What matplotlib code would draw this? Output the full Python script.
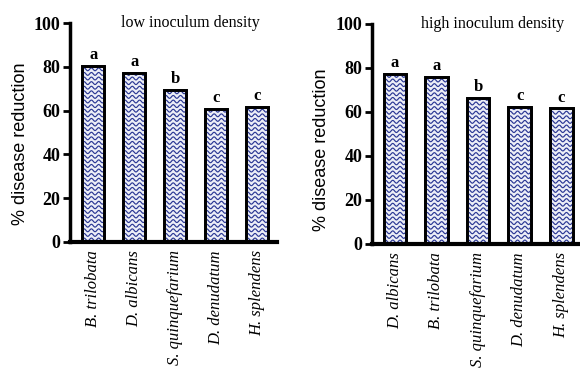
import numpy as np
import matplotlib
matplotlib.use('Agg')
import matplotlib.pyplot as plt

# Data
low_species = ['B. trilobata', 'D. albicans', 'S. quinquefarium', 'D. denudatum', 'H. splendens']
low_values = [80.5, 77.3, 69.6, 60.9, 61.6]
low_letters = ['a', 'a', 'b', 'c', 'c']

high_species = ['D. albicans', 'B. trilobata', 'S. quinquefarium', 'D. denudatum', 'H. splendens']
high_values = [77.5, 75.8, 66.5, 62.2, 61.6]
high_letters = ['a', 'a', 'b', 'c', 'c']

serif = 'Liberation Serif'
sans = 'Liberation Sans'
wave_color = '#2a3794'


def wavy_fill(ax, bar, px_x, px_y):
    # draw wavy horizontal lines clipped to the bar
    x0 = bar.get_x()
    w = bar.get_width()
    h = bar.get_height()
    xs = np.linspace(x0, x0 + w, 120)
    wl = 7.3 * px_x
    amp = 1.4 * px_y
    for y0 in np.arange(2.5 * px_y, h, 4.6 * px_y):
        ys = y0 + amp * np.sin(2 * np.pi * (xs - x0) / wl)
        ln, = ax.plot(xs, ys, color=wave_color, lw=0.85, zorder=2)
        ln.set_clip_path(bar)


def panel(ax, species, values, letters, title, xlim, label_y):
    x = np.arange(len(species))
    bars = ax.bar(x, values, width=0.54, color='#eceef7', edgecolor='black',
                  linewidth=2, zorder=1)
    ax.set_xlim(*xlim)
    ax.set_ylim(0, 100)
    bbox = ax.get_window_extent()
    px_x = (xlim[1] - xlim[0]) / bbox.width
    px_y = 100 / bbox.height
    for b in bars:
        wavy_fill(ax, b, px_x, px_y)
    # outline on top of the waves
    ax.bar(x, values, width=0.54, fill=False, edgecolor='black', linewidth=2, zorder=4)
    for xi, v, l in zip(x, values, letters):
        ax.text(xi, v + 1.3, l, ha='center', va='bottom', fontsize=12,
                fontweight='bold', family=serif)
    ax.set_yticks([0, 20, 40, 60, 80, 100])
    ax.set_yticklabels(['0', '20', '40', '60', '80', '100'], fontsize=13,
                       family=serif, fontweight='bold')
    ax.set_xticks(x)
    ax.set_xticklabels(species, rotation=90, fontsize=12, family=serif,
                       style='italic')
    ax.tick_params(axis='x', length=0, pad=6)
    ax.tick_params(axis='y', length=5, width=2, direction='out', pad=2)
    for s in ['top', 'right']:
        ax.spines[s].set_visible(False)
    ax.spines['left'].set_linewidth(2.5)
    ax.spines['bottom'].set_linewidth(3)
    ax.set_ylabel('% disease reduction', fontsize=13, family=sans)
    ax.yaxis.set_label_coords(-0.2, label_y)
    ax.text(0.58, 1.0, title, transform=ax.transAxes, ha='center', va='center',
            fontsize=11.5, family=serif)


fig = plt.figure(figsize=(5.8, 3.75), dpi=100)
ax1 = fig.add_axes([70 / 580, (375 - 242) / 375, 207 / 580, 219 / 375])
ax2 = fig.add_axes([372 / 580, (375 - 244) / 375, 208 / 580, 220 / 375])

panel(ax1, low_species, low_values, low_letters, 'low inoculum density', (-0.57, 4.49), 0.45)
panel(ax2, high_species, high_values, high_letters, 'high inoculum density', (-0.55, 4.45), 0.43)

fig.savefig('out.png', dpi=100)
